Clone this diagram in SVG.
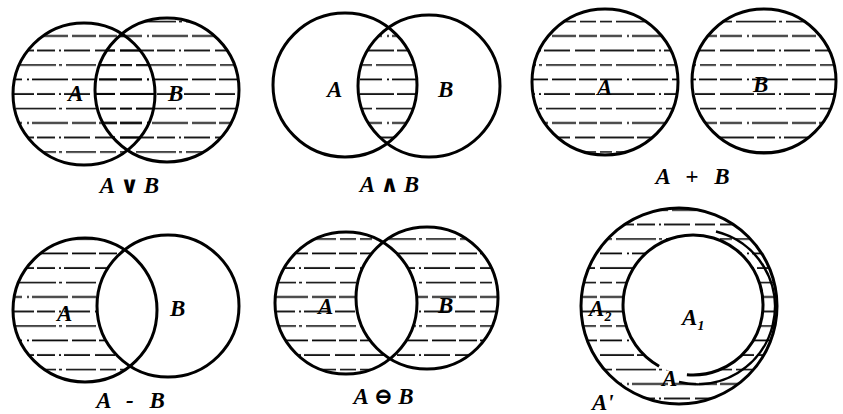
<svg xmlns="http://www.w3.org/2000/svg" width="843" height="414" viewBox="0 0 843 414">
<style>
.c{fill:none;stroke:#000;stroke-width:3}
.l{font-family:"Liberation Serif",serif;font-style:italic;font-weight:bold;font-size:23px;fill:#000}
.cap{font-family:"Liberation Serif","DejaVu Serif",serif;font-style:italic;font-weight:bold;font-size:23px;fill:#000;text-anchor:middle;letter-spacing:5px}
.w{fill:#fff;stroke:none}
</style>
<defs>
<pattern id="h" patternUnits="userSpaceOnUse" width="120" height="43.5">
<line x1="0" y1="7" x2="120" y2="7" stroke="#000" stroke-width="1.6" stroke-dasharray="34 3 18 4 2 3 26 5 20 5"/>
<line x1="0" y1="21.5" x2="120" y2="21.5" stroke="#000" stroke-width="1.6" stroke-dasharray="12 4 40 3 3 4 30 4 16 4"/>
<line x1="0" y1="36" x2="120" y2="36" stroke="#000" stroke-width="1.6" stroke-dasharray="22 5 2 3 36 4 24 3 18 3"/>
</pattern>
<clipPath id="cb2"><circle cx="429" cy="86" r="71"/></clipPath>
<clipPath id="cb5"><circle cx="427" cy="298" r="71"/></clipPath>
</defs>
<rect width="843" height="414" fill="#fff"/>

<g id="union">
<circle cx="84" cy="94" r="71" fill="url(#h)"/>
<circle cx="167" cy="90" r="72" fill="url(#h)"/>
<circle class="c" cx="84" cy="94" r="71"/>
<circle class="c" cx="167" cy="90" r="72"/>
<text class="l" x="68" y="101">A</text>
<text class="l" x="168" y="101">B</text>
<text class="cap" x="132" y="193">A∨B</text>
</g>

<g id="intersection">
<circle cx="345" cy="85" r="72" fill="url(#h)" clip-path="url(#cb2)"/>
<circle class="c" cx="345" cy="85" r="72"/>
<circle class="c" cx="429" cy="86" r="71"/>
<text class="l" x="327" y="97">A</text>
<text class="l" x="438" y="97">B</text>
<text class="cap" x="392" y="192">A∧B</text>
</g>

<g id="sum">
<circle cx="605" cy="82" r="73" fill="url(#h)"/>
<circle cx="764" cy="81" r="72" fill="url(#h)"/>
<circle class="c" cx="605" cy="82" r="73"/>
<circle class="c" cx="764" cy="81" r="72"/>
<text class="l" x="597" y="95">A</text>
<text class="l" x="753" y="92">B</text>
<text class="cap" x="695" y="184">A + B</text>
</g>

<g id="difference">
<circle cx="85" cy="310" r="72" fill="url(#h)"/>
<circle class="w" cx="168" cy="306" r="71"/>
<circle class="c" cx="85" cy="310" r="72"/>
<circle class="c" cx="168" cy="306" r="71"/>
<text class="l" x="57" y="321">A</text>
<text class="l" x="170" y="316">B</text>
<text class="cap" x="133" y="408">A - B</text>
</g>

<g id="symdiff">
<circle cx="346" cy="303" r="71" fill="url(#h)"/>
<circle cx="427" cy="298" r="71" fill="url(#h)"/>
<circle class="w" cx="346" cy="303" r="71" clip-path="url(#cb5)"/>
<circle class="c" cx="346" cy="303" r="71"/>
<circle class="c" cx="427" cy="298" r="71"/>
<text class="l" x="318" y="314">A</text>
<text class="l" x="438" y="313">B</text>
<text class="cap" x="386" y="404">A⊖B</text>
</g>

<g id="partition">
<circle cx="679" cy="306" r="98" fill="url(#h)"/>
<circle class="w" cx="693" cy="305" r="70"/>
<circle class="c" cx="679" cy="306" r="98"/>
<path class="c" d="M659.1,366.2 A70,70 0 1 1 686.9,374.7"/>
<path fill="none" stroke="#000" stroke-width="2.5" d="M716,231.5 A77,77 0 0 1 679,382"/>
<text class="l" x="589" y="316">A₂</text>
<text class="l" x="682" y="325">A₁</text>
<text class="l" x="662" y="386">A</text>
<text class="l" x="592" y="410" font-size="19">A'</text>
</g>
</svg>
